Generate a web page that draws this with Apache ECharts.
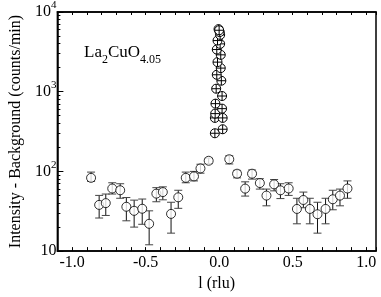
<!DOCTYPE html>
<html><head><meta charset="utf-8">
<script src="https://cdn.jsdelivr.net/npm/echarts@6/dist/echarts.min.js"></script>
<style>html,body{margin:0;padding:0;background:#fff}#c{width:381px;height:297px}</style>
</head><body><div id="c"></div>
<script>
// background (off-peak) points: l, intensity, error low, error high
const bgL    = [-0.871,-0.816,-0.771,-0.727,-0.673,-0.631,-0.578,-0.523,-0.476,-0.427,-0.383,-0.327,-0.278,-0.227,-0.171,-0.127,-0.071,0.069,0.122,0.177,0.224,0.277,0.322,0.374,0.417,0.473,0.529,0.573,0.617,0.669,0.724,0.773,0.822,0.873];
const bgI    = [83,38,40,61,58,36,32,34,22,52.6,55,29.3,47.3,83,86.6,109,136,142,93.6,60.8,93.6,71.4,49.7,68.8,57.9,61,33.8,43.8,33.8,29,33.8,44.7,49.7,61];
const bgLo   = [75,26,28,52,46,24,20,21.7,12,41.6,44,16.8,34.4,72,76,95,125,124,83,49,80,60,37,57,45.6,50,22,35,22,16.8,22,33,37,46];
const bgHi   = [98,50,52,72,70,47,43.6,45,32,62.5,64,41,58,98,100,123,147,157,103,74,104,81,60,79,70,72,46,55,46,41,46,58,60,76];
// peak points near l = 0
const pkL    = [-0.029,0.024,-0.029,0.024,-0.027,0.020,-0.025,0.020,-0.020,0.015,-0.016,0.011,-0.011,0.011,-0.016,0.007,-0.011,0.007,0.004,-0.004,0.000];
const pkI    = [301,338,469,469,531,613,708,883,1090,1373,1631,1977,2350,2901,3380,3981,4380,5158,5600,6100,5900];
// axis ticks
const xLabelTicks = [-1.0,-0.5,0.0,0.5,1.0];
const yTicks = [10,100,1000,10000];

const FONT = 'Liberation Serif';
const chart = echarts.init(document.getElementById('c'), null, {renderer:'canvas'});

const bgData = bgL.map((l,i)=>[l,bgI[i]]);
const errData = bgL.map((l,i)=>[l,bgLo[i],bgHi[i]]);
const pkData = pkL.map((l,i)=>[l,pkI[i]]);

chart.setOption({
  animation:false,
  backgroundColor:'#fff',
  grid:{left:51,right:5,top:12,bottom:44,show:true,borderColor:'#000',borderWidth:1.5},
  xAxis:[{
    type:'value',min:-1.1,max:1.067,interval:0.1,
    name:'l (rlu)',nameLocation:'middle',nameGap:16,
    nameTextStyle:{fontFamily:FONT,fontSize:16,color:'#000'},
    axisLine:{show:true,onZero:false,lineStyle:{color:'#000',width:1.5}},
    axisTick:{show:true,inside:true,length:4,lineStyle:{color:'#000',width:1}},
    axisLabel:{margin:4,fontFamily:FONT,fontSize:16,color:'#000',showMinLabel:true,showMaxLabel:true,
      formatter:function(v){const r=Math.round(v*10);for(const t of xLabelTicks){if(Math.abs(t*10-r)<0.01&&Math.abs(v-t)<0.01)return t.toFixed(1);}return '';}},
    splitLine:{show:false}
  },{
    type:'value',position:'top',min:-1.1,max:1.067,interval:0.1,
    axisLine:{show:true,onZero:false,lineStyle:{color:'#000',width:1.5}},
    axisTick:{show:true,inside:true,length:3,lineStyle:{color:'#000',width:1}},
    axisLabel:{show:false},splitLine:{show:false}
  }],
  yAxis:{
    type:'log',logBase:10,min:10,max:10000,
    name:'Intensity - Background (counts/min)',nameLocation:'middle',nameGap:28,
    nameTextStyle:{fontFamily:FONT,fontSize:16,color:'#000'},
    axisLine:{show:true,onZero:false,lineStyle:{color:'#000',width:1.5}},
    axisTick:{show:true,inside:true,length:6,lineStyle:{color:'#000',width:1}},
    minorTick:{show:true,splitNumber:9,length:3,lineStyle:{color:'#000',width:1}},
    axisLabel:{margin:1,fontFamily:FONT,color:'#000',
      formatter:function(v){const e=Math.round(Math.log10(v));if(e===1)return '{b|10}';return '{b|10}{p|'+e+'}';},
      rich:{b:{fontFamily:FONT,fontSize:16,color:'#000',lineHeight:16,verticalAlign:'middle'},
            p:{fontFamily:FONT,fontSize:11,color:'#000',lineHeight:24,verticalAlign:'top'}}},
    splitLine:{show:false}
  },
  graphic:[{
    type:'text',left:84,top:44,
    style:{text:'{m|La}{s|2}{m|CuO}{s|4.05}',
      rich:{m:{fontFamily:FONT,fontSize:17,fill:'#000',lineHeight:20,verticalAlign:'middle'},
            s:{fontFamily:FONT,fontSize:12,fill:'#000',lineHeight:27,verticalAlign:'bottom'}}}
  }],
  series:[
    {type:'custom',z:1,data:errData,encode:{x:0,y:[1,2]},
     renderItem:function(params,api){
       const x=api.value(0),lo=api.value(1),hi=api.value(2);
       const a=api.coord([x,hi]),b=api.coord([x,lo]);
       const st={stroke:'#111',lineWidth:1};
       return {type:'group',children:[
         {type:'line',shape:{x1:a[0],y1:a[1],x2:b[0],y2:b[1]},style:st},
         {type:'line',shape:{x1:a[0]-4,y1:a[1],x2:a[0]+4,y2:a[1]},style:{stroke:'#444',lineWidth:1}},
         {type:'line',shape:{x1:b[0]-4,y1:b[1],x2:b[0]+4,y2:b[1]},style:{stroke:'#444',lineWidth:1}}
       ]};
     }},
    {type:'scatter',z:2,data:bgData,symbol:'circle',symbolSize:9,
     itemStyle:{color:'#fff',borderColor:'#000',borderWidth:1}},
    {type:'custom',z:3,data:pkData,encode:{x:0,y:1},
     renderItem:function(params,api){
       const p=api.coord([api.value(0),api.value(1)]);
       const r=4.5;
       return {type:'group',children:[
         {type:'circle',shape:{cx:p[0],cy:p[1],r:r},style:{fill:'#fff',stroke:'#000',lineWidth:1}},
         {type:'line',shape:{x1:p[0]-r,y1:p[1],x2:p[0]+r,y2:p[1]},style:{stroke:'#000',lineWidth:1}},
         {type:'line',shape:{x1:p[0],y1:p[1]-r,x2:p[0],y2:p[1]+r},style:{stroke:'#000',lineWidth:1}}
       ]};
     }}
  ]
});
</script></body></html>
